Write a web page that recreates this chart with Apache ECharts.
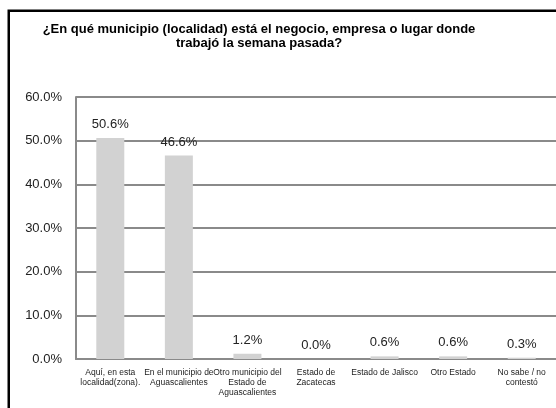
<!DOCTYPE html>
<html>
<head>
<meta charset="utf-8">
<script src="https://cdn.jsdelivr.net/npm/echarts@6/dist/echarts.min.js"></script>
<style>
html,body{margin:0;padding:0;background:#fff;}
#c{width:556px;height:408px;}
</style>
</head>
<body>
<div id="c"></div>
<script>
var categories = [
  "Aquí, en esta\nlocalidad(zona).",
  "En el municipio de\nAguascalientes",
  "Otro municipio del\nEstado de\nAguascalientes",
  "Estado de\nZacatecas",
  "Estado de Jalisco",
  "Otro Estado",
  "No sabe / no\ncontestó"
];
var values = [50.6, 46.6, 1.2, 0.0, 0.6, 0.6, 0.3];
var yTicks = { min: 0, max: 60, interval: 10 };
var titleText = "¿En qué municipio (localidad) está el negocio, empresa o lugar donde\ntrabajó la semana pasada?";

var FONT = "'Liberation Sans', Arial, sans-serif";
var chart = echarts.init(document.getElementById('c'), null, {renderer: 'canvas'});
chart.setOption({
  backgroundColor: '#ffffff',
  animation: false,
  title: {
    text: titleText,
    left: 259,
    top: 22,
    padding: 0,
    textAlign: 'center',
    textStyle: { fontFamily: FONT, fontSize: 13, fontWeight: 'bold', color: '#000', lineHeight: 14 }
  },
  graphic: [{
    type: 'rect',
    shape: { x: 8.75, y: 10.75, width: 600, height: 500 },
    style: { fill: 'none', stroke: '#000', lineWidth: 2.5 },
    silent: true
  }],
  grid: { left: 76, top: 97, width: 488, height: 262, containLabel: false },
  xAxis: {
    type: 'category',
    data: categories,
    axisLine: { show: true, lineStyle: { color: '#8a8a8a', width: 2 } },
    axisTick: { show: false },
    axisLabel: { interval: 0, fontFamily: FONT, fontSize: 8.5, lineHeight: 10, color: '#222', margin: 9 }
  },
  yAxis: {
    type: 'value',
    min: yTicks.min, max: yTicks.max, interval: yTicks.interval,
    axisLine: { show: true, lineStyle: { color: '#8a8a8a', width: 2 } },
    axisTick: { show: false },
    splitLine: { show: true, lineStyle: { color: '#8a8a8a', width: 2 } },
    axisLabel: {
      fontFamily: FONT, fontSize: 13, color: '#222', margin: 14,
      formatter: function (v) { return v.toFixed(1) + '%'; }
    }
  },
  series: [{
    type: 'bar',
    data: values,
    barWidth: 28,
    itemStyle: { color: '#d2d2d2' },
    label: {
      show: true, position: 'top', distance: 7,
      fontFamily: FONT, fontSize: 13, color: '#222',
      formatter: function (p) { return p.value.toFixed(1) + '%'; }
    }
  }]
});
</script>
</body>
</html>
